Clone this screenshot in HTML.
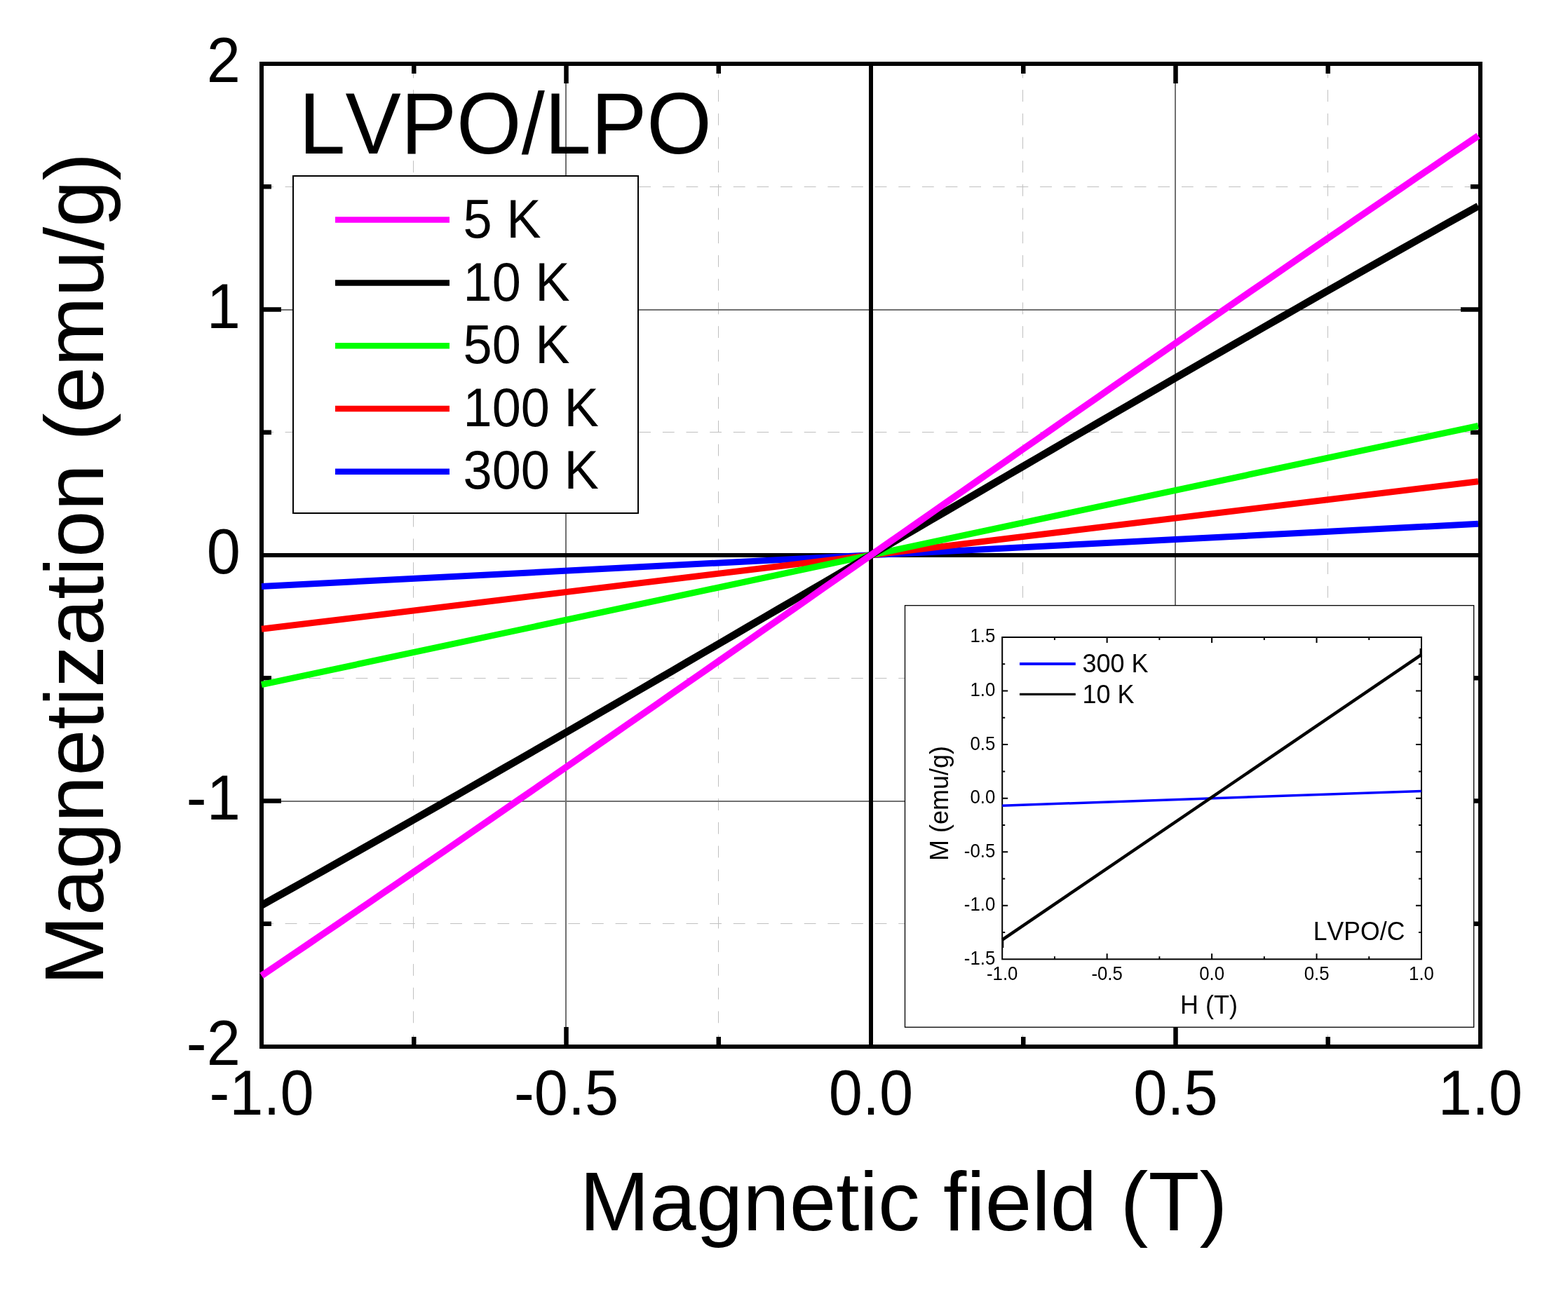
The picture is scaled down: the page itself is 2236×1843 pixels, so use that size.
<!DOCTYPE html><html><head><meta charset="utf-8"><title>Magnetization vs Magnetic field</title>
<style>html,body{margin:0;padding:0;background:#fff;}svg{display:block;}text{font-family:"Liberation Sans",Arial,sans-serif;fill:#000;font-kerning:none;font-feature-settings:"kern" 0;}</style></head><body>
<svg width="2236" height="1843" viewBox="0 0 2236 1843">
<rect x="0" y="0" width="2236" height="1843" fill="#fff"/>
<g stroke="#c0c0c0" stroke-width="1" stroke-dasharray="16.85 16.85"><line x1="589.5" y1="1493.0" x2="589.5" y2="91.0"/><line x1="1024.5" y1="1493.0" x2="1024.5" y2="91.0"/><line x1="1458.5" y1="1493.0" x2="1458.5" y2="91.0"/><line x1="1893.5" y1="1493.0" x2="1893.5" y2="91.0"/></g>
<g stroke="#c0c0c0" stroke-width="1" stroke-dasharray="16.82 16.82"><line x1="373.0" y1="266.5" x2="2111.0" y2="266.5"/><line x1="373.0" y1="616.5" x2="2111.0" y2="616.5"/><line x1="373.0" y1="967.5" x2="2111.0" y2="967.5"/><line x1="373.0" y1="1317.5" x2="2111.0" y2="1317.5"/></g>
<g stroke="#717171" stroke-width="2"><line x1="807.0" y1="1493.0" x2="807.0" y2="91.0"/><line x1="1676.0" y1="1493.0" x2="1676.0" y2="91.0"/><line x1="373.0" y1="442.0" x2="2111.0" y2="442.0"/><line x1="373.0" y1="1143.0" x2="2111.0" y2="1143.0"/></g>
<line x1="1242.0" y1="91.0" x2="1242.0" y2="1493.0" stroke="#000" stroke-width="6"/>
<line x1="373.0" y1="792" x2="2111.0" y2="792" stroke="#000" stroke-width="6"/>
<rect x="373.0" y="91.0" width="1738.0" height="1402.0" fill="none" stroke="#000" stroke-width="6"/>
<path d="M590.25 1493.0v-14M590.25 91.0v14M807.50 1493.0v-28M807.50 91.0v28M1024.75 1493.0v-14M1024.75 91.0v14M1459.25 1493.0v-14M1459.25 91.0v14M1676.50 1493.0v-28M1676.50 91.0v28M1893.75 1493.0v-14M1893.75 91.0v14M373.0 1317.75h14M2111.0 1317.75h-14M373.0 1142.50h28M2111.0 1142.50h-28M373.0 967.25h14M2111.0 967.25h-14M373.0 616.75h14M2111.0 616.75h-14M373.0 441.50h28M2111.0 441.50h-28M373.0 266.25h14M2111.0 266.25h-14" stroke="#000" stroke-width="6.5" fill="none"/>
<polyline points="373.0,836.5 2108.0,747.3" fill="none" stroke="#0000ff" stroke-width="9" stroke-linejoin="round"/>
<polyline points="373.0,897.3 2108.0,686.7" fill="none" stroke="#ff0000" stroke-width="9" stroke-linejoin="round"/>
<polyline points="373.0,976.7 2108.0,607.5" fill="none" stroke="#00ff00" stroke-width="9" stroke-linejoin="round"/>
<polyline points="373.0,1291.3 394.7,1279.2 416.4,1267.1 438.1,1255.0 459.8,1242.8 481.4,1230.6 503.1,1218.4 524.8,1206.1 546.5,1193.9 568.2,1181.6 589.9,1169.3 611.6,1156.9 633.2,1144.6 654.9,1132.2 676.6,1119.8 698.3,1107.4 720.0,1094.9 741.7,1082.5 763.4,1070.0 785.1,1057.5 806.8,1045.0 828.4,1032.5 850.1,1019.9 871.8,1007.4 893.5,994.8 915.2,982.2 936.9,969.6 958.6,957.1 980.2,944.4 1001.9,931.8 1023.6,919.2 1045.3,906.6 1067.0,893.9 1088.7,881.3 1110.4,868.6 1132.1,856.0 1153.8,843.3 1175.4,830.7 1197.1,818.0 1218.8,805.3 1240.5,792.7 1262.2,780.0 1283.9,767.3 1305.6,754.7 1327.2,742.0 1348.9,729.4 1370.6,716.7 1392.3,704.1 1414.0,691.4 1435.7,678.8 1457.4,666.1 1479.1,653.5 1500.8,640.9 1522.4,628.3 1544.1,615.7 1565.8,603.1 1587.5,590.5 1609.2,578.0 1630.9,565.4 1652.6,552.9 1674.2,540.3 1695.9,527.8 1717.6,515.3 1739.3,502.9 1761.0,490.4 1782.7,478.0 1804.4,465.5 1826.1,453.1 1847.8,440.7 1869.4,428.4 1891.1,416.0 1912.8,403.7 1934.5,391.4 1956.2,379.2 1977.9,366.9 1999.6,354.7 2021.2,342.5 2042.9,330.3 2064.6,318.2 2086.3,306.1 2108.0,294.0" fill="none" stroke="#000000" stroke-width="10.5" stroke-linejoin="round"/>
<polyline points="373.0,1391.8 394.7,1377.1 416.4,1362.4 438.1,1347.7 459.8,1332.9 481.4,1318.2 503.1,1303.4 524.8,1288.6 546.5,1273.7 568.2,1258.9 589.9,1244.0 611.6,1229.1 633.2,1214.3 654.9,1199.3 676.6,1184.4 698.3,1169.5 720.0,1154.5 741.7,1139.5 763.4,1124.6 785.1,1109.6 806.8,1094.6 828.4,1079.6 850.1,1064.5 871.8,1049.5 893.5,1034.4 915.2,1019.4 936.9,1004.3 958.6,989.2 980.2,974.2 1001.9,959.1 1023.6,944.0 1045.3,928.9 1067.0,913.8 1088.7,898.7 1110.4,883.6 1132.1,868.5 1153.8,853.3 1175.4,838.2 1197.1,823.1 1218.8,808.0 1240.5,792.8 1262.2,777.7 1283.9,762.6 1305.6,747.5 1327.2,732.4 1348.9,717.2 1370.6,702.1 1392.3,687.0 1414.0,671.9 1435.7,656.8 1457.4,641.7 1479.1,626.6 1500.8,611.5 1522.4,596.4 1544.1,581.4 1565.8,566.3 1587.5,551.2 1609.2,536.2 1630.9,521.2 1652.6,506.1 1674.2,491.1 1695.9,476.1 1717.6,461.1 1739.3,446.1 1761.0,431.2 1782.7,416.2 1804.4,401.3 1826.1,386.3 1847.8,371.4 1869.4,356.5 1891.1,341.6 1912.8,326.8 1934.5,311.9 1956.2,297.1 1977.9,282.3 1999.6,267.5 2021.2,252.7 2042.9,238.0 2064.6,223.2 2086.3,208.5 2108.0,193.8" fill="none" stroke="#ff00ff" stroke-width="9.5" stroke-linejoin="round"/>
<rect x="418" y="251" width="492" height="481" fill="#fff" stroke="#000" stroke-width="2"/>
<line x1="478" y1="313.6" x2="641" y2="313.6" stroke="#ff00ff" stroke-width="8.5"/>
<text transform="translate(660.50 339.30) scale(1 1.0412)" font-size="74">5 K</text>
<line x1="478" y1="403.4" x2="641" y2="403.4" stroke="#000000" stroke-width="8.5"/>
<text transform="translate(660.50 428.80) scale(1 1.0412)" font-size="74">10 K</text>
<line x1="478" y1="493.2" x2="641" y2="493.2" stroke="#00ff00" stroke-width="8.5"/>
<text transform="translate(660.50 518.30) scale(1 1.0412)" font-size="74">50 K</text>
<line x1="478" y1="583.0" x2="641" y2="583.0" stroke="#ff0000" stroke-width="8.5"/>
<text transform="translate(660.50 607.80) scale(1 1.0412)" font-size="74">100 K</text>
<line x1="478" y1="672.8" x2="641" y2="672.8" stroke="#0000ff" stroke-width="8.5"/>
<text transform="translate(660.50 697.30) scale(1 1.0412)" font-size="74">300 K</text>
<text transform="translate(426.20 218.60) scale(1 1.0412)" font-size="119">LVPO/LPO</text>
<text transform="translate(342.80 117.00) scale(1 1.0412)" font-size="86.6" text-anchor="end">2</text>
<text transform="translate(342.80 467.50) scale(1 1.0412)" font-size="86.6" text-anchor="end">1</text>
<text transform="translate(342.80 818.00) scale(1 1.0412)" font-size="86.6" text-anchor="end">0</text>
<text transform="translate(342.80 1168.50) scale(1 1.0412)" font-size="86.6" text-anchor="end">-1</text>
<text transform="translate(342.80 1519.00) scale(1 1.0412)" font-size="86.6" text-anchor="end">-2</text>
<text transform="translate(373.00 1590.00) scale(1 1.0412)" font-size="86.6" text-anchor="middle">-1.0</text>
<text transform="translate(807.50 1590.00) scale(1 1.0412)" font-size="86.6" text-anchor="middle">-0.5</text>
<text transform="translate(1242.00 1590.00) scale(1 1.0412)" font-size="86.6" text-anchor="middle">0.0</text>
<text transform="translate(1676.50 1590.00) scale(1 1.0412)" font-size="86.6" text-anchor="middle">0.5</text>
<text transform="translate(2111.00 1590.00) scale(1 1.0412)" font-size="86.6" text-anchor="middle">1.0</text>
<text transform="translate(826.50 1755.40) scale(1 1)" font-size="119.6">Magnetic field (T)</text>
<text transform="translate(147.00 1405.50) rotate(-90) scale(1 1)" font-size="119.4">Magnetization (emu/g)</text>
<rect x="1290.5" y="863.7" width="811.2" height="601.6" fill="#fff" stroke="#000" stroke-width="1.3"/>
<rect x="1429.2" y="909.0" width="597.8" height="459.3" fill="none" stroke="#000" stroke-width="2"/>
<path d="M1503.92 1368.3v-4M1503.92 909.0v4M1578.65 1368.3v-8M1578.65 909.0v8M1653.38 1368.3v-4M1653.38 909.0v4M1728.10 1368.3v-8M1728.10 909.0v8M1802.83 1368.3v-4M1802.83 909.0v4M1877.55 1368.3v-8M1877.55 909.0v8M1952.28 1368.3v-4M1952.28 909.0v4M1429.2 1330.03h4M2027.0 1330.03h-4M1429.2 1291.75h8M2027.0 1291.75h-8M1429.2 1253.48h4M2027.0 1253.48h-4M1429.2 1215.20h8M2027.0 1215.20h-8M1429.2 1176.93h4M2027.0 1176.93h-4M1429.2 1138.65h8M2027.0 1138.65h-8M1429.2 1100.38h4M2027.0 1100.38h-4M1429.2 1062.10h8M2027.0 1062.10h-8M1429.2 1023.83h4M2027.0 1023.83h-4M1429.2 985.55h8M2027.0 985.55h-8M1429.2 947.28h4M2027.0 947.28h-4" stroke="#000" stroke-width="2" fill="none"/>
<line x1="1429.2" y1="1149.2" x2="2027.0" y2="1128.4" stroke="#0000ff" stroke-width="3.5"/>
<line x1="1429.2" y1="1340.6" x2="2027.0" y2="933.8" stroke="#000" stroke-width="4.5"/>
<path d="M1430.3 1338V1352M2025.6 937V925" stroke="#000" stroke-width="2" fill="none"/>
<line x1="1454" y1="946.9" x2="1533.8" y2="946.9" stroke="#0000ff" stroke-width="4"/>
<line x1="1454" y1="990.3" x2="1533.8" y2="990.3" stroke="#000" stroke-width="3.2"/>
<text transform="translate(1543.40 959.00) scale(1 1.0412)" font-size="36">300 K</text>
<text transform="translate(1543.40 1002.60) scale(1 1.0412)" font-size="36">10 K</text>
<text transform="translate(1419.30 916.40) scale(1 1.0412)" font-size="25.8" text-anchor="end">1.5</text>
<text transform="translate(1419.30 992.95) scale(1 1.0412)" font-size="25.8" text-anchor="end">1.0</text>
<text transform="translate(1419.30 1069.50) scale(1 1.0412)" font-size="25.8" text-anchor="end">0.5</text>
<text transform="translate(1419.30 1146.05) scale(1 1.0412)" font-size="25.8" text-anchor="end">0.0</text>
<text transform="translate(1419.30 1222.60) scale(1 1.0412)" font-size="25.8" text-anchor="end">-0.5</text>
<text transform="translate(1419.30 1299.15) scale(1 1.0412)" font-size="25.8" text-anchor="end">-1.0</text>
<text transform="translate(1419.30 1375.70) scale(1 1.0412)" font-size="25.8" text-anchor="end">-1.5</text>
<text transform="translate(1429.20 1397.70) scale(1 1.0412)" font-size="25.8" text-anchor="middle">-1.0</text>
<text transform="translate(1578.65 1397.70) scale(1 1.0412)" font-size="25.8" text-anchor="middle">-0.5</text>
<text transform="translate(1728.10 1397.70) scale(1 1.0412)" font-size="25.8" text-anchor="middle">0.0</text>
<text transform="translate(1877.55 1397.70) scale(1 1.0412)" font-size="25.8" text-anchor="middle">0.5</text>
<text transform="translate(2027.00 1397.70) scale(1 1.0412)" font-size="25.8" text-anchor="middle">1.0</text>
<text transform="translate(1683.00 1446.00) scale(1 1.0412)" font-size="36">H (T)</text>
<text transform="translate(1352.00 1228.00) rotate(-90) scale(1 1)" font-size="36">M (emu/g)</text>
<text transform="translate(1872.80 1340.60) scale(1 1.0412)" font-size="35.6">LVPO/C</text>
</svg></body></html>
